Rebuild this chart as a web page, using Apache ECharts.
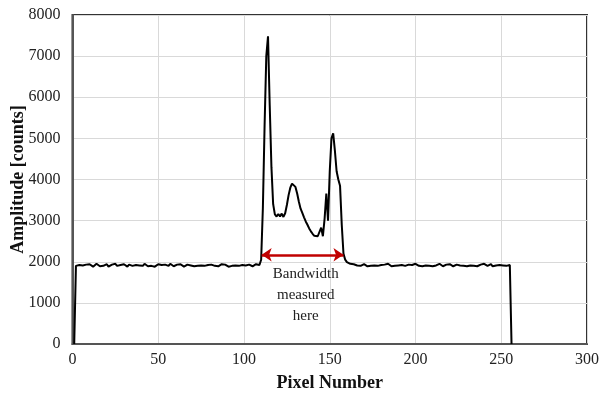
<!DOCTYPE html>
<html>
<head>
<meta charset="utf-8">
<script src="https://cdn.jsdelivr.net/npm/echarts@6/dist/echarts.min.js"></script>
<style>
  html, body { margin: 0; padding: 0; background: #fff; }
  #chart { width: 600px; height: 398px; }
</style>
</head>
<body>
<div id="chart"></div>
<script>
// pixel numbers start here, one amplitude per pixel
const firstPixel = 1;

// pixel 1
const leftEdge = [0];
// pixels 2 - 109
const leftBaseline = [
  1900, 1940, 1920, 1950, 1910, 1890, 1930, 1910, 1940, 1900,
  1880, 1920, 1950, 1910, 1890, 1930, 1900, 1920, 1940, 1880,
  1910, 1930, 1900, 1950, 1900, 1890, 1920, 1910, 1940, 1900,
  1880, 1930, 1910, 1900, 1940, 1920, 1890, 1910, 1930, 1900,
  1950, 1910, 1890, 1920, 1900, 1930, 1880, 1910, 1940, 1900,
  1920, 1890, 1930, 1910, 1900, 1950, 1920, 1890, 1910, 1930,
  1900, 1940, 1910, 1880, 1920, 1930, 1900, 1910, 1950, 1890,
  1920, 1900, 1930, 1910, 1940, 1900, 1890, 1920, 1910, 1930,
  1950, 1900, 1920, 1890, 1910, 1940, 1900, 1930, 1910, 1880,
  1920, 1900, 1940, 1910, 1930, 1900, 1890, 1920, 1950, 1910,
  1900, 1930, 1920, 1890, 1910, 1940, 1900, 1920
];
// pixels 110 - 160
const bandRegion = [
  2050, 3300, 5300, 7000, 7480, 5800, 4300, 3400, 3150, 3100,
  3160, 3100, 3170, 3090, 3180, 3380, 3620, 3800, 3900, 3940,
  3820, 3660, 3460, 3290, 3190, 3080, 2980, 2900, 2810, 2740,
  2680, 2630, 2600, 2620, 2600, 2830, 2620, 3050, 3660, 3000,
  4200, 5000, 5120, 4700, 4200, 4000, 3850, 2900, 2200, 2050,
  1990
];
// pixels 161 - 255
const rightBaseline = [
  1970, 1950, 1930, 1940, 1920, 1910, 1930, 1900, 1920, 1940,
  1910, 1890, 1920, 1900, 1930, 1910, 1940, 1900, 1890, 1920,
  1910, 1930, 1900, 1950, 1910, 1890, 1920, 1900, 1930, 1910,
  1880, 1920, 1940, 1900, 1910, 1930, 1890, 1920, 1900, 1950,
  1910, 1900, 1930, 1890, 1920, 1910, 1940, 1900, 1920, 1890,
  1930, 1910, 1900, 1950, 1920, 1890, 1910, 1930, 1900, 1940,
  1910, 1890, 1920, 1930, 1900, 1910, 1950, 1900, 1920, 1890,
  1930, 1910, 1940, 1900, 1920, 1890, 1910, 1930, 1900, 1950,
  1910, 1900, 1920, 1940, 1890, 1930, 1910, 1900, 1920, 1950,
  1910, 1930, 1900, 1940, 1920
];
// pixel 256
const rightEdge = [0];

// bandwidth annotation
const bandStart = 110.3;
const bandEnd = 158;
const arrowLevel = 2170;
const noteText = 'Bandwidth\nmeasured\nhere';
const notePos = [136, 1180];

const amplitude = [].concat(leftEdge, leftBaseline, bandRegion, rightBaseline, rightEdge);
const seriesData = amplitude.map((v, i) => [firstPixel + i, v]);

const serif = 'Liberation Serif, Times New Roman, serif';

const chart = echarts.init(document.getElementById('chart'), null, { renderer: 'canvas' });

const option = {
  animation: false,
  backgroundColor: '#fff',
  grid: {
    left: 72.5,
    right: 13,
    top: 15,
    bottom: 54,
    containLabel: false,
    outerBoundsMode: 'none',
    show: true,
    borderColor: '#333',
    borderWidth: 2
  },
  xAxis: {
    type: 'value',
    min: 0,
    max: 300,
    interval: 50,
    name: 'Pixel Number',
    nameLocation: 'middle',
    nameGap: 30,
    nameMoveOverlap: false,
    nameTextStyle: { fontFamily: serif, fontSize: 18, fontWeight: 'bold', color: '#111' },
    axisLine: { show: true, lineStyle: { color: '#555', width: 2 } },
    axisTick: { show: false },
    axisLabel: { fontFamily: serif, fontSize: 16, color: '#222', margin: 8, formatter: v => String(v) },
    splitLine: { show: true, lineStyle: { color: '#d9d9d9', width: 1 } }
  },
  yAxis: {
    type: 'value',
    min: 0,
    max: 8000,
    interval: 1000,
    name: 'Amplitude [counts]',
    nameLocation: 'middle',
    nameGap: 45,
    nameMoveOverlap: false,
    nameTextStyle: { fontFamily: serif, fontSize: 18, fontWeight: 'bold', color: '#111' },
    axisLine: { show: true, lineStyle: { color: '#555', width: 2 } },
    axisTick: { show: false },
    axisLabel: { fontFamily: serif, fontSize: 16, color: '#222', margin: 12, formatter: v => String(v) },
    splitLine: { show: true, lineStyle: { color: '#d9d9d9', width: 1 } }
  },
  series: [
    {
      type: 'line',
      data: seriesData,
      symbol: 'none',
      lineStyle: { color: '#000', width: 2 },
      z: 3,
      markLine: {
        silent: true,
        symbol: ['arrow', 'arrow'],
        symbolSize: [10, 10],
        lineStyle: { color: '#c00000', width: 2.5, type: 'solid' },
        label: { show: false },
        data: [[{ coord: [bandStart, arrowLevel] }, { coord: [bandEnd, arrowLevel] }]]
      },
      markPoint: {
        silent: true,
        symbol: 'circle',
        symbolSize: 0,
        label: {
          show: true,
          formatter: noteText,
          fontFamily: serif,
          fontSize: 15,
          lineHeight: 21,
          color: '#222',
          align: 'center',
          verticalAlign: 'middle'
        },
        data: [{ coord: notePos }]
      }
    }
  ]
};

chart.setOption(option);
</script>
</body>
</html>
